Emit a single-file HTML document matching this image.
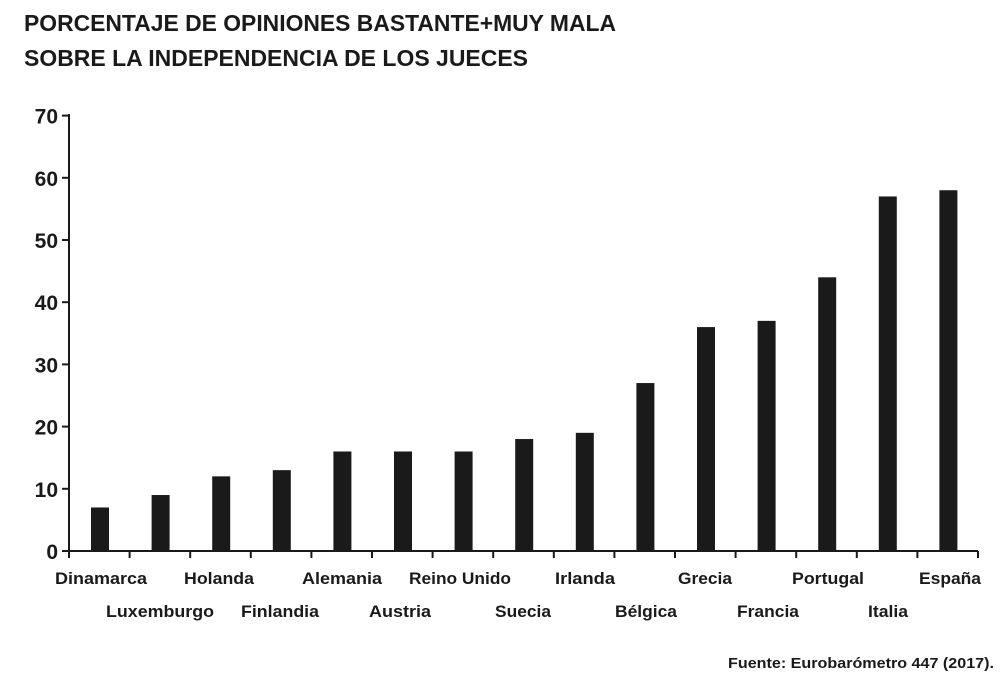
<!DOCTYPE html>
<html><head><meta charset="utf-8"><style>
body{margin:0;background:#fff;width:1008px;height:692px;overflow:hidden}
svg text{font-family:"Liberation Sans Narrow","Liberation Sans",sans-serif;fill:#1a1a1a}
</style></head><body>
<svg width="1008" height="692" xmlns="http://www.w3.org/2000/svg">
<text x="24" y="31" font-size="23" font-weight="bold" textLength="592" lengthAdjust="spacingAndGlyphs">PORCENTAJE DE OPINIONES BASTANTE+MUY MALA</text>
<text x="24" y="66" font-size="23" font-weight="bold" textLength="504" lengthAdjust="spacingAndGlyphs">SOBRE LA INDEPENDENCIA DE LOS JUECES</text>
<g stroke="#1a1a1a" stroke-width="2">
<line x1="69" y1="114" x2="69" y2="558"/>
<line x1="62" y1="551" x2="978" y2="551"/>
</g>
<g id="yt" font-size="21" font-weight="bold" text-anchor="end"></g>
<g id="bars"></g>
<g font-size="17" font-weight="bold" text-anchor="middle">
<text x="101" y="584" textLength="92" lengthAdjust="spacingAndGlyphs">Dinamarca</text>
<text x="160" y="617" textLength="108" lengthAdjust="spacingAndGlyphs">Luxemburgo</text>
<text x="219" y="584" textLength="70" lengthAdjust="spacingAndGlyphs">Holanda</text>
<text x="280" y="617" textLength="78" lengthAdjust="spacingAndGlyphs">Finlandia</text>
<text x="342" y="584" textLength="80" lengthAdjust="spacingAndGlyphs">Alemania</text>
<text x="400" y="617" textLength="62" lengthAdjust="spacingAndGlyphs">Austria</text>
<text x="460" y="584" textLength="102" lengthAdjust="spacingAndGlyphs">Reino Unido</text>
<text x="523" y="617" textLength="56" lengthAdjust="spacingAndGlyphs">Suecia</text>
<text x="585" y="584" textLength="60" lengthAdjust="spacingAndGlyphs">Irlanda</text>
<text x="646" y="617" textLength="62" lengthAdjust="spacingAndGlyphs">Bélgica</text>
<text x="705" y="584" textLength="54" lengthAdjust="spacingAndGlyphs">Grecia</text>
<text x="768" y="617" textLength="62" lengthAdjust="spacingAndGlyphs">Francia</text>
<text x="828" y="584" textLength="72" lengthAdjust="spacingAndGlyphs">Portugal</text>
<text x="888" y="617" textLength="40" lengthAdjust="spacingAndGlyphs">Italia</text>
<text x="950" y="584" textLength="62" lengthAdjust="spacingAndGlyphs">España</text>
</g>
<text x="994" y="668" font-size="15" font-weight="bold" text-anchor="end" textLength="266" lengthAdjust="spacingAndGlyphs">Fuente: Eurobarómetro 447 (2017).</text>
</svg>
<script>
const ns="http://www.w3.org/2000/svg";
const yt=document.getElementById('yt'),bars=document.getElementById('bars');
const y0=551,u=6.22;
for(let v=0;v<=70;v+=10){const y=y0-v*u;
 let t=document.createElementNS(ns,'text');t.setAttribute('x',58);t.setAttribute('y',y+8);t.textContent=v;yt.appendChild(t);
 let l=document.createElementNS(ns,'line');l.setAttribute('x1',62);l.setAttribute('x2',69);l.setAttribute('y1',y);l.setAttribute('y2',y);l.setAttribute('stroke','#1a1a1a');l.setAttribute('stroke-width',2);yt.appendChild(l);}
const d=[7,9,12,13,16,16,16,18,19,27,36,37,44,57,58];
for(let i=1;i<=15;i++){const x=69+i*60.6;let l=document.createElementNS(ns,'line');l.setAttribute('x1',x);l.setAttribute('x2',x);l.setAttribute('y1',551);l.setAttribute('y2',558);l.setAttribute('stroke','#1a1a1a');l.setAttribute('stroke-width',2);bars.appendChild(l);}
d.forEach((v,i)=>{let r=document.createElementNS(ns,'rect');r.setAttribute('x',91+i*60.6);r.setAttribute('width',18);r.setAttribute('y',y0-v*u);r.setAttribute('height',v*u);r.setAttribute('fill','#1a1a1a');bars.appendChild(r);});
</script>
</body></html>
